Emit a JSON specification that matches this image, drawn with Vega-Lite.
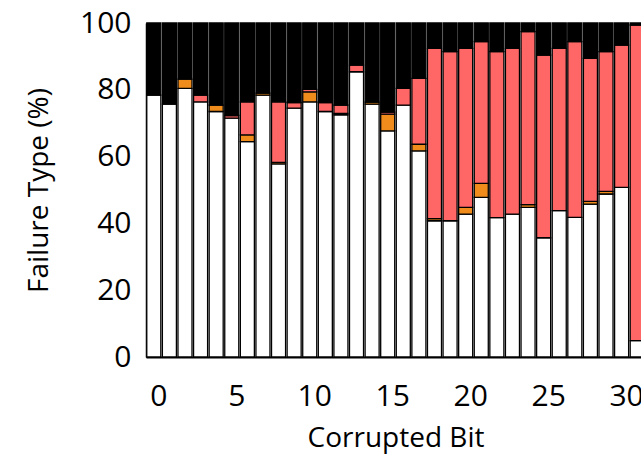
{
  "$schema": "https://vega.github.io/schema/vega-lite/v6.json",
  "autosize": {"type": "none"},
  "padding": {"left": 146, "top": 23, "right": 0, "bottom": 102},
  "width": 499,
  "height": 334,
  "background": "white",
  "data": {
    "values": [
      {"bit": 0, "Correct": 78.4, "Detected": 0, "Incorrect": 0, "Terminated": 21.6},
      {"bit": 1, "Correct": 75.7, "Detected": 0, "Incorrect": 0, "Terminated": 24.3},
      {"bit": 2, "Correct": 80.4, "Detected": 2.8, "Incorrect": 0, "Terminated": 16.8},
      {"bit": 3, "Correct": 76.4, "Detected": 0, "Incorrect": 2.0, "Terminated": 21.6},
      {"bit": 4, "Correct": 73.5, "Detected": 1.9, "Incorrect": 0, "Terminated": 24.6},
      {"bit": 5, "Correct": 71.5, "Detected": 0, "Incorrect": 0.8, "Terminated": 27.7},
      {"bit": 6, "Correct": 64.5, "Detected": 2.0, "Incorrect": 9.9, "Terminated": 23.6},
      {"bit": 7, "Correct": 78.4, "Detected": 0.6, "Incorrect": 0, "Terminated": 21.0},
      {"bit": 8, "Correct": 57.8, "Detected": 0.5, "Incorrect": 18.1, "Terminated": 23.6},
      {"bit": 9, "Correct": 74.5, "Detected": 0, "Incorrect": 1.7, "Terminated": 23.8},
      {"bit": 10, "Correct": 76.4, "Detected": 3.0, "Incorrect": 0.7, "Terminated": 19.9},
      {"bit": 11, "Correct": 73.5, "Detected": 0, "Incorrect": 2.7, "Terminated": 23.8},
      {"bit": 12, "Correct": 72.5, "Detected": 0.4, "Incorrect": 2.5, "Terminated": 24.6},
      {"bit": 13, "Correct": 85.4, "Detected": 0, "Incorrect": 2.0, "Terminated": 12.6},
      {"bit": 14, "Correct": 75.7, "Detected": 0.6, "Incorrect": 0, "Terminated": 23.7},
      {"bit": 15, "Correct": 67.7, "Detected": 5.0, "Incorrect": 0.6, "Terminated": 26.7},
      {"bit": 16, "Correct": 75.4, "Detected": 0, "Incorrect": 5.0, "Terminated": 19.6},
      {"bit": 17, "Correct": 61.7, "Detected": 2.0, "Incorrect": 19.7, "Terminated": 16.6},
      {"bit": 18, "Correct": 40.8, "Detected": 0.6, "Incorrect": 51.0, "Terminated": 7.6},
      {"bit": 19, "Correct": 40.8, "Detected": 0, "Incorrect": 50.6, "Terminated": 8.6},
      {"bit": 20, "Correct": 42.8, "Detected": 2.0, "Incorrect": 47.6, "Terminated": 7.6},
      {"bit": 21, "Correct": 47.8, "Detected": 4.2, "Incorrect": 42.4, "Terminated": 5.6},
      {"bit": 22, "Correct": 41.7, "Detected": 0, "Incorrect": 49.7, "Terminated": 8.6},
      {"bit": 23, "Correct": 42.8, "Detected": 0, "Incorrect": 49.6, "Terminated": 7.6},
      {"bit": 24, "Correct": 44.8, "Detected": 0.8, "Incorrect": 51.8, "Terminated": 2.6},
      {"bit": 25, "Correct": 35.7, "Detected": 0, "Incorrect": 54.7, "Terminated": 9.6},
      {"bit": 26, "Correct": 43.8, "Detected": 0, "Incorrect": 48.6, "Terminated": 7.6},
      {"bit": 27, "Correct": 41.8, "Detected": 0, "Incorrect": 52.6, "Terminated": 5.6},
      {"bit": 28, "Correct": 45.8, "Detected": 0.8, "Incorrect": 42.8, "Terminated": 10.6},
      {"bit": 29, "Correct": 48.8, "Detected": 0.8, "Incorrect": 41.8, "Terminated": 8.6},
      {"bit": 30, "Correct": 50.8, "Detected": 0, "Incorrect": 42.6, "Terminated": 6.6},
      {"bit": 31, "Correct": 4.9, "Detected": 0, "Incorrect": 94.5, "Terminated": 0.6}
    ]
  },
  "transform": [
    {"fold": ["Correct", "Detected", "Incorrect", "Terminated"], "as": ["type", "pct"]},
    {"filter": "datum.pct > 0"}
  ],
  "mark": {"type": "bar", "stroke": "black", "strokeWidth": 1.3},
  "encoding": {
    "x": {
      "field": "bit",
      "type": "ordinal",
      "sort": "ascending",
      "scale": {"paddingInner": 0.1, "paddingOuter": 0.05},
      "axis": {
        "title": "Corrupted Bit",
        "values": [0, 5, 10, 15, 20, 25, 30],
        "labelAngle": 0,
        "ticks": false,
        "labelPadding": 24,
        "labelOffset": 5,
        "titlePadding": 13,
        "labelFont": "Open Sans",
        "titleFont": "Open Sans",
        "labelFontSize": 30,
        "titleFontSize": 28,
        "titleFontWeight": "normal",
        "labelColor": "black",
        "titleColor": "black",
        "domainColor": "black",
        "domainWidth": 2
      }
    },
    "y": {
      "field": "pct",
      "type": "quantitative",
      "stack": "zero",
      "scale": {"domain": [0, 100]},
      "axis": {
        "title": "Failure Type (%)",
        "values": [0, 20, 40, 60, 80, 100],
        "grid": false,
        "ticks": false,
        "labelPadding": 15,
        "titlePadding": 26,
        "labelFont": "Open Sans",
        "titleFont": "Open Sans",
        "labelFontSize": 30,
        "titleFontSize": 28,
        "titleFontWeight": "normal",
        "labelColor": "black",
        "titleColor": "black",
        "domainColor": "black",
        "domainWidth": 1.5
      }
    },
    "color": {
      "field": "type",
      "type": "nominal",
      "scale": {
        "domain": ["Correct", "Detected", "Incorrect", "Terminated"],
        "range": ["#ffffff", "#ef8c1c", "#ff6666", "#000000"]
      },
      "legend": null
    },
    "order": {"field": "type", "sort": "ascending"}
  },
  "config": {"view": {"stroke": null}}
}
